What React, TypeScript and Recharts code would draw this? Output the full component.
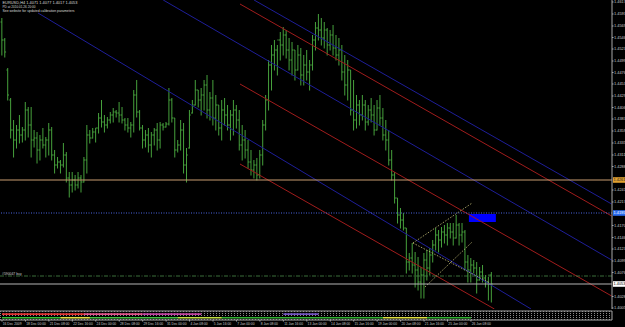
import React from 'react';
import { ComposedChart, Bar, XAxis, YAxis, ReferenceLine, ReferenceArea, Line } from 'recharts';

// EURUSD H4 bars (index 0 = 16 Dec 2009 16:00)
const opens = [
  1.4577,1.4541,1.4481,1.4421,1.4361,1.4341,1.4361,1.4351,1.4361,1.4401,
  1.4371,1.4341,1.4345,1.4321,1.4341,1.4331,1.4341,1.4361,1.4311,1.4291,
  1.4297,1.4291,1.4311,1.4265,1.4251,1.4261,1.4251,1.4265,1.4257,1.4301,
  1.4351,1.4345,1.4357,1.4365,1.4385,1.4377,1.4371,1.4381,1.4391,1.4397,
  1.4395,1.4391,1.4381,1.4371,1.4365,1.4371,1.4431,1.4397,1.4365,1.4341,
  1.4351,1.4331,1.4351,1.4361,1.4341,1.4371,1.4367,1.4373,1.4421,1.4385,
  1.4321,1.4331,1.4361,1.4291,1.4325,1.4395,1.4411,1.4441,1.4421,1.4431,
  1.4451,1.4401,1.4425,1.4385,1.4411,1.4365,1.4401,1.4391,1.4371,1.4391,
  1.4401,1.4381,1.4331,1.4341,1.4321,1.4297,1.4281,1.4291,1.4271,1.4311,
  1.4371,1.4421,1.4491,1.4511,1.4521,1.4541,1.4531,1.4551,1.4521,1.4501,
  1.4521,1.4481,1.4511,1.4471,1.4491,1.4477,1.4491,1.4541,1.4565,1.4561,
  1.4545,1.4561,1.4531,1.4551,1.4525,1.4511,1.4521,1.4477,1.4451,1.4481,
  1.4401,1.4381,1.4411,1.4391,1.4411,1.4377,1.4401,1.4391,1.4361,1.4405,
  1.4385,1.4351,1.4341,1.4301,1.4271,1.4225,1.4191,1.4181,1.4165,1.4097,
  1.4105,1.4091,1.4081,1.4057,1.4071,1.4101,1.4085,1.4111,1.4131,1.4151,
  1.4141,1.4157,1.4151,1.4165,1.4157,1.4145,1.4171,1.4151,1.4157,1.4097,
  1.4081,1.4091,1.4085,1.4061,1.4077,1.4065,1.4057,1.4071,
];
const highs = [
  1.4585,1.4545,1.4485,1.4425,1.4381,1.4371,1.4391,1.4367,1.4417,1.4407,
  1.4407,1.4361,1.4357,1.4351,1.4365,1.4347,1.4375,1.4367,1.4321,1.4307,
  1.4301,1.4335,1.4317,1.4277,1.4277,1.4271,1.4277,1.4271,1.4307,1.4371,
  1.4361,1.4365,1.4365,1.4395,1.4421,1.4391,1.4387,1.4397,1.4405,1.4401,
  1.4417,1.4407,1.4385,1.4385,1.4377,1.4441,1.4461,1.4401,1.4371,1.4361,
  1.4365,1.4357,1.4365,1.4375,1.4377,1.4375,1.4377,1.4445,1.4425,1.4385,
  1.4341,1.4381,1.4375,1.4325,1.4401,1.4421,1.4461,1.4441,1.4445,1.4461,
  1.4471,1.4437,1.4461,1.4431,1.4411,1.4421,1.4425,1.4411,1.4401,1.4421,
  1.4411,1.4401,1.4371,1.4361,1.4341,1.4321,1.4301,1.4305,1.4321,1.4381,
  1.4431,1.4501,1.4531,1.4541,1.4531,1.4557,1.4567,1.4561,1.4545,1.4537,
  1.4521,1.4531,1.4525,1.4511,1.4521,1.4501,1.4551,1.4577,1.4593,1.4585,
  1.4577,1.4565,1.4561,1.4571,1.4551,1.4545,1.4531,1.4511,1.4501,1.4481,
  1.4461,1.4431,1.4421,1.4431,1.4421,1.4411,1.4425,1.4411,1.4421,1.4431,
  1.4405,1.4381,1.4361,1.4321,1.4277,1.4225,1.4205,1.4195,1.4165,1.4115,
  1.4135,1.4117,1.4107,1.4087,1.4115,1.4121,1.4125,1.4141,1.4165,1.4161,
  1.4167,1.4171,1.4175,1.4175,1.4175,1.4191,1.4175,1.4175,1.4161,1.4111,
  1.4105,1.4101,1.4097,1.4087,1.4091,1.4071,1.4067,1.4077,
];
const lows = [
  1.4511,1.4507,1.4421,1.4345,1.4307,1.4325,1.4335,1.4337,1.4341,1.4347,
  1.4307,1.4327,1.4295,1.4301,1.4325,1.4307,1.4311,1.4301,1.4275,1.4285,
  1.4275,1.4287,1.4257,1.4227,1.4237,1.4241,1.4245,1.4237,1.4257,1.4275,
  1.4335,1.4345,1.4337,1.4355,1.4367,1.4357,1.4365,1.4375,1.4377,1.4387,
  1.4377,1.4375,1.4361,1.4357,1.4347,1.4357,1.4387,1.4361,1.4325,1.4327,
  1.4317,1.4307,1.4331,1.4321,1.4325,1.4361,1.4367,1.4371,1.4377,1.4307,
  1.4317,1.4321,1.4275,1.4257,1.4325,1.4395,1.4411,1.4407,1.4391,1.4401,
  1.4385,1.4381,1.4371,1.4361,1.4351,1.4341,1.4371,1.4361,1.4341,1.4351,
  1.4365,1.4321,1.4301,1.4305,1.4285,1.4271,1.4265,1.4261,1.4265,1.4291,
  1.4361,1.4401,1.4441,1.4481,1.4471,1.4501,1.4511,1.4505,1.4481,1.4471,
  1.4461,1.4481,1.4451,1.4451,1.4461,1.4441,1.4481,1.4521,1.4541,1.4531,
  1.4525,1.4511,1.4521,1.4511,1.4501,1.4491,1.4461,1.4431,1.4421,1.4391,
  1.4361,1.4365,1.4371,1.4381,1.4361,1.4371,1.4377,1.4351,1.4361,1.4371,
  1.4341,1.4321,1.4291,1.4261,1.4215,1.4175,1.4165,1.4161,1.4075,1.4081,
  1.4075,1.4047,1.4041,1.4025,1.4025,1.4061,1.4071,1.4097,1.4121,1.4117,
  1.4127,1.4135,1.4131,1.4145,1.4131,1.4145,1.4131,1.4137,1.4081,1.4057,
  1.4057,1.4075,1.4035,1.4061,1.4057,1.4047,1.4021,1.4017,
];
const closes = [
  1.4541,1.4517,1.4431,1.4361,1.4341,1.4361,1.4351,1.4361,1.4401,1.4371,
  1.4341,1.4345,1.4321,1.4341,1.4331,1.4341,1.4361,1.4311,1.4291,1.4297,
  1.4291,1.4311,1.4265,1.4251,1.4261,1.4251,1.4265,1.4257,1.4301,1.4351,
  1.4345,1.4357,1.4365,1.4385,1.4377,1.4371,1.4381,1.4391,1.4397,1.4395,
  1.4391,1.4381,1.4371,1.4365,1.4371,1.4431,1.4397,1.4365,1.4341,1.4351,
  1.4331,1.4351,1.4361,1.4341,1.4371,1.4367,1.4373,1.4421,1.4385,1.4321,
  1.4331,1.4361,1.4291,1.4311,1.4391,1.4411,1.4441,1.4421,1.4431,1.4451,
  1.4401,1.4425,1.4385,1.4411,1.4365,1.4401,1.4391,1.4371,1.4391,1.4401,
  1.4381,1.4331,1.4341,1.4321,1.4297,1.4281,1.4291,1.4271,1.4311,1.4371,
  1.4421,1.4491,1.4511,1.4521,1.4541,1.4531,1.4551,1.4521,1.4501,1.4521,
  1.4481,1.4511,1.4471,1.4491,1.4477,1.4491,1.4541,1.4565,1.4561,1.4545,
  1.4561,1.4531,1.4551,1.4525,1.4511,1.4521,1.4477,1.4451,1.4481,1.4401,
  1.4381,1.4411,1.4391,1.4411,1.4377,1.4401,1.4391,1.4361,1.4405,1.4385,
  1.4351,1.4341,1.4301,1.4271,1.4225,1.4191,1.4181,1.4165,1.4097,1.4105,
  1.4091,1.4081,1.4057,1.4071,1.4101,1.4085,1.4111,1.4131,1.4151,1.4141,
  1.4157,1.4151,1.4165,1.4157,1.4145,1.4171,1.4151,1.4157,1.4097,1.4081,
  1.4091,1.4085,1.4061,1.4077,1.4065,1.4057,1.4071,1.4053,
];

const timeLabelBars = [0,8,16,24,32,40,48,56,64,72,80,88,96,104,112,120,128,136,144,152,160];
const timeLabels = [
  '16 Dec 2009','18 Dec 00:00','21 Dec 08:00','22 Dec 16:00','24 Dec 00:00','28 Dec 08:00',
  '29 Dec 16:00','31 Dec 00:00','4 Jan 08:00','5 Jan 16:00','7 Jan 00:00','8 Jan 08:00',
  '11 Jan 16:00','13 Jan 00:00','14 Jan 08:00','15 Jan 16:00','19 Jan 00:00','20 Jan 08:00',
  '21 Jan 16:00','25 Jan 00:00','26 Jan 08:00',
];
const priceTicks = [
  1.4617,1.4593,1.4569,1.4546,1.4523,1.4499,1.4476,1.4453,1.4429,1.4406,1.4383,1.4359,
  1.4335,1.4311,1.4288,1.4241,1.4217,1.4170,1.4146,1.4123,1.4099,1.4076,1.4028,1.4005,
];

// drawn objects (bar index, price)
const blueLines = [
  [[55, 1.4621], [208, 1.4101]],
  [[12.3, 1.4595], [180.5, 1.4003]],
  [[86, 1.4621], [208, 1.4213]],
];
const redLines = [
  [[81.2, 1.4613], [208, 1.4189]],
  [[81.2, 1.4453], [208, 1.4029]],
  [[81.2, 1.4293], [168, 1.4003]],
];
const fanLines = [
  [[140.2, 1.4135], [160.4, 1.4215]],
  [[140.2, 1.4135], [166.5, 1.4055]],
  [[144.3, 1.4047], [160.4, 1.4137]],
];
const levelOrange = 1.4261;
const levelBlue = 1.4195;
const levelOrder = 1.4069;
const levelBid = 1.4053;
const blueBox = { x1: 159.3, x2: 168.5, y1: 1.4177, y2: 1.4193 };

const indUpper = [
  { from: 0, to: 28, color: '#e03030' },
  { from: 28, to: 48, color: '#e0508a' },
  { from: 48, to: 68, color: '#c040a0' },
  { from: 96, to: 108, color: '#7050c0' },
];
const indLower = [
  { from: 0, to: 20, color: '#30c030' },
  { from: 20, to: 30, color: '#e0e040' },
  { from: 30, to: 60, color: '#40c040' },
  { from: 60, to: 75, color: '#c0e040' },
  { from: 75, to: 130, color: '#30b030' },
  { from: 130, to: 145, color: '#e0e040' },
  { from: 145, to: 160, color: '#30b030' },
];

const X_DOMAIN: [number, number] = [-0.68, 208.12];
const Y_DOMAIN: [number, number] = [1.4003, 1.4621];
const BAR_GREEN = '#46a03c';
const FONT = 'Liberation Sans, Arial, sans-serif';

const bars = highs.map((h, i) => ({
  i, range: [lows[i], h], open: opens[i], high: h, low: lows[i], close: closes[i],
}));

const OhlcShape = (props: any) => {
  const { x, y, width, height, payload } = props;
  if (x == null || y == null || !payload) return null;
  const top = Math.min(y, y + height);
  const bot = Math.max(y, y + height);
  const span = payload.high - payload.low || 1;
  const hgt = bot - top;
  const cx = x + width / 2;
  const yO = top + ((payload.high - payload.open) / span) * hgt;
  const yC = top + ((payload.high - payload.close) / span) * hgt;
  return (
    <g stroke={BAR_GREEN} strokeWidth={1}>
      <line x1={cx} x2={cx} y1={top} y2={bot + 0.5} />
      <line x1={cx - 1.3} x2={cx} y1={yO} y2={yO} />
      <line x1={cx} x2={cx + 1.3} y1={yC} y2={yC} />
    </g>
  );
};

const PriceTick = (props: any) => {
  const { x, y, payload } = props;
  return (
    <text x={x + 0.5} y={y} dy={1.4} fontSize={3.9} fill="#c8c8c8" fontFamily={FONT} textAnchor="start">
      {Number(payload.value).toFixed(4)}
    </text>
  );
};

const TimeTick = (props: any) => {
  const { x, y, payload } = props;
  const idx = timeLabelBars.indexOf(payload.value);
  return (
    <text x={x + 0.8} y={y + 3.2} fontSize={3.3} fill="#c8c8c8" fontFamily={FONT} textAnchor="start">
      {timeLabels[idx]}
    </text>
  );
};

const axisBadge = (bg: string, fg: string, text: string) => (props: any) => {
  const vb = props.viewBox || {};
  const x = (vb.x || 0) + (vb.width || 0);
  const y = vb.y || 0;
  return (
    <g>
      <rect x={x + 1} y={y - 2.8} width={13} height={5.6} fill={bg} />
      <text x={x + 1.5} y={y + 1.4} fontSize={3.9} fill={fg} fontFamily={FONT}>{text}</text>
    </g>
  );
};

const orderLabel = (props: any) => {
  const vb = props.viewBox || {};
  return (
    <text x={(vb.x || 0) + 2} y={(vb.y || 0) - 1.5} fontSize={3.4} fill="#d0d0d0" fontFamily={FONT}>
      #590047 buy
    </text>
  );
};

export default function App() {
  return (
    <div style={{ position: 'absolute', left: 0, top: 0, width: 625, height: 327, background: '#000', overflow: 'hidden' }}>
      <ComposedChart width={625} height={309} data={bars} margin={{ top: 0, right: 0, bottom: 0, left: 0 }}>
        <XAxis type="number" dataKey="i" domain={X_DOMAIN} allowDataOverflow hide />
        <YAxis
          orientation="right" type="number" domain={Y_DOMAIN} allowDataOverflow width={13}
          ticks={priceTicks} interval={0} tick={<PriceTick />} tickSize={1.5} tickMargin={0}
          axisLine={{ stroke: '#a8a8a8' }} tickLine={{ stroke: '#a8a8a8' }}
        />
        <Bar dataKey="range" barSize={3} shape={<OhlcShape />} isAnimationActive={false} />
        {blueLines.map((l, k) => (
          <ReferenceLine key={'b' + k} segment={[{ x: l[0][0], y: l[0][1] }, { x: l[1][0], y: l[1][1] }]} stroke="#1e1e98" strokeWidth={1} ifOverflow="hidden" />
        ))}
        {redLines.map((l, k) => (
          <ReferenceLine key={'r' + k} segment={[{ x: l[0][0], y: l[0][1] }, { x: l[1][0], y: l[1][1] }]} stroke="#a01c1c" strokeWidth={1} ifOverflow="hidden" />
        ))}
        {fanLines.map((l, k) => (
          <ReferenceLine key={'f' + k} segment={[{ x: l[0][0], y: l[0][1] }, { x: l[1][0], y: l[1][1] }]} stroke="#c8c27a" strokeWidth={0.8} strokeDasharray="1.5 1.5" ifOverflow="hidden" />
        ))}
        <ReferenceLine y={levelOrange} stroke="#c89c70" strokeWidth={1} label={axisBadge('#e0a030', '#202020', levelOrange.toFixed(4))} />
        <ReferenceLine y={levelBlue} stroke="#4a64e0" strokeWidth={1} strokeDasharray="1 1.5" label={axisBadge('#2a6cf0', '#ffffff', levelBlue.toFixed(4))} />
        <ReferenceLine y={levelOrder} stroke="#4a8c4a" strokeWidth={0.8} strokeDasharray="4 1.5 1 1.5" label={orderLabel} />
        <ReferenceLine y={levelBid} stroke="#b4b4b4" strokeWidth={1} label={axisBadge('#ffffff', '#000000', levelBid.toFixed(4))} />
        <ReferenceArea x1={blueBox.x1} x2={blueBox.x2} y1={blueBox.y1} y2={blueBox.y2} fill="#0000ff" fillOpacity={1} stroke="none" />
      </ComposedChart>

      <div style={{ position: 'absolute', left: 0, top: 309 }}>
        <ComposedChart width={625} height={18} data={bars} margin={{ top: 2, right: 0, bottom: 0, left: 0 }}>
          <defs>
            <pattern id="subdots" width="3" height="2" patternUnits="userSpaceOnUse">
              <rect width="1" height="1" fill="#8a8a8a" />
            </pattern>
          </defs>
          <XAxis
            type="number" dataKey="i" domain={X_DOMAIN} allowDataOverflow ticks={timeLabelBars} interval={0}
            tick={<TimeTick />} height={7} tickSize={1.5} tickMargin={0}
            axisLine={{ stroke: '#a8a8a8' }} tickLine={{ stroke: '#a8a8a8' }}
          />
          <YAxis orientation="right" width={13} domain={[0, 10]} ticks={[]} axisLine={{ stroke: '#a8a8a8' }} tickLine={false} />
          <ReferenceArea x1={X_DOMAIN[0]} x2={X_DOMAIN[1]} y1={0} y2={10} fill="url(#subdots)" fillOpacity={1} stroke="none" />
          <ReferenceLine y={10} stroke="#a0a0a0" strokeWidth={1} />
          {indUpper.map((s, k) => (
            <ReferenceLine key={'u' + k} segment={[{ x: s.from, y: 6.5 }, { x: s.to, y: 6.5 }]} stroke={s.color} strokeWidth={1.6} />
          ))}
          {indLower.map((s, k) => (
            <ReferenceLine key={'l' + k} segment={[{ x: s.from, y: 2.5 }, { x: s.to, y: 2.5 }]} stroke={s.color} strokeWidth={1.6} />
          ))}
          <Line dataKey="close" stroke="none" dot={false} isAnimationActive={false} />
        </ComposedChart>
      </div>

      <svg style={{ position: 'absolute', left: 0, top: 0 }} width={200} height={16}>
        <text x={2.5} y={3.6} fontSize={3.4} fill="#d8d8d8" fontFamily={FONT} textLength={75} lengthAdjust="spacingAndGlyphs">EURUSD,H4  1.4071 1.4077 1.4017 1.4053</text>
        <text x={2.5} y={8} fontSize={3.4} fill="#d8d8d8" fontFamily={FONT} textLength={33} lengthAdjust="spacingAndGlyphs">PD at 2010.01.26 20:00</text>
        <text x={2.5} y={12.4} fontSize={3.4} fill="#d8d8d8" fontFamily={FONT} textLength={72} lengthAdjust="spacingAndGlyphs">See website for updated calibration parameters</text>
      </svg>
    </div>
  );
}
